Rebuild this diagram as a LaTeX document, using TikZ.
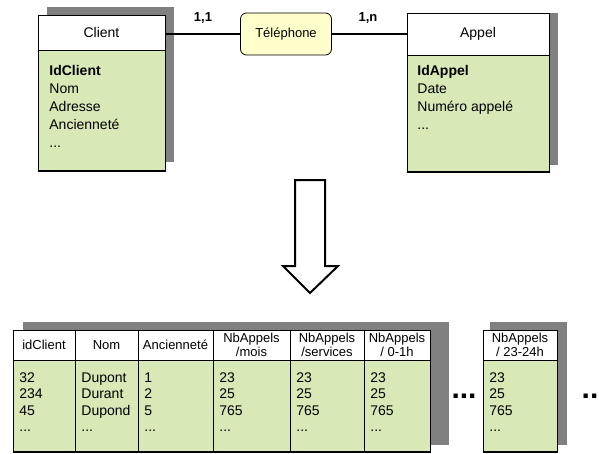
\documentclass[tikz,border=0pt]{standalone}
\usepackage{fontspec}
\setmainfont{Liberation Sans}
\definecolor{vert}{RGB}{216,232,182}
\definecolor{jaune}{RGB}{255,255,204}
\definecolor{ombre}{RGB}{128,128,128}
\begin{document}
\begin{tikzpicture}[x=1pt,y=-1pt,line join=miter,line width=.8pt]
\tikzset{entete/.style={draw,fill=white,inner sep=0pt,font=\fontsize{14}{16}\selectfont},
  attr/.style={anchor=north west,align=left,inner sep=0pt,font=\fontsize{14}{18}\selectfont},
  card/.style={font=\bfseries\fontsize{13}{15}\selectfont},
  cell/.style={align=center,inner sep=0pt,font=\fontsize{13}{14}\selectfont},
  val/.style={anchor=north west,align=left,inner sep=0pt,font=\fontsize{14}{16.5}\selectfont},
  etc/.style={font=\bfseries\fontsize{30}{30}\selectfont}}
\useasboundingbox (0,0) rectangle (599,453);
% entite Client
\fill[ombre] (47,7) rectangle (174,162);
\draw[fill=vert] (38,50) rectangle (165,171);
\draw[line width=1.6pt] (38,171) -- (165,171);
\node[entete,minimum width=127pt,minimum height=35pt] (client) at (101.5,32.5) {Client};
\node[attr] (attrclient) at (49,65) {\textbf{IdClient}\\Nom\\Adresse\\Ancienneté\\...};
% entite Appel
\fill[ombre] (416,13) rectangle (558,165);
\draw[fill=vert] (407,55) rectangle (549,172);
\draw[line width=1.6pt] (407,172) -- (549,172);
\node[entete,minimum width=142pt,minimum height=42pt] (appel) at (478,34) {Appel};
\node[attr] (attrappel) at (417,65) {\textbf{IdAppel}\\Date\\Numéro appelé\\...};
% association
\node[draw,fill=jaune,rounded corners=6pt,minimum width=91pt,minimum height=42pt,inner sep=0pt,
  font=\fontsize{13}{15}\selectfont] (tel) at (286,34) {Téléphone};
\draw[line width=1.8pt] (client.east |- tel.west) -- (tel.west);
\draw[line width=1.8pt] (tel.east) -- (appel.west);
\node[card] (card1) at (203,18) {1,1};
\node[card] (card2) at (368,18) {1,n};
% fleche
\draw[line width=2pt,fill=white] (295,180) -- (325,180) -- (325,266) -- (338,266) -- (310,293)
  -- (283,266) -- (295,266) -- cycle;
% table
\fill[ombre] (23,322) rectangle (449,445);
\draw[fill=white] (13,330) rectangle (430,360);
\draw[fill=vert] (13,360) rectangle (430,452);
\draw[line width=1.6pt] (13,452) -- (430,452);
\foreach \xa/\xb/\titre/\va/\vb/\vc [count=\i] in {13/75/idClient/32/234/45,
  75/138/Nom/Dupont/Durant/Dupond, 138/213/Ancienneté/1/2/5,
  213/290/{NbAppels\\/mois}/23/25/765, 290/364/{NbAppels\\/services}/23/25/765,
  364/430/{NbAppels\\/ 0-1h}/23/25/765}{
  \draw (\xa,330) -- (\xa,452);
  \node[cell] (col\i) at ({(\xa+\xb)/2},345) {\titre};
  \node[val] (val\i) at (\xa+6,372) {\va\\\vb\\\vc\\...};
}
\node[etc] (etc1) at (464,396) {...};
\fill[ombre] (490,322) rectangle (567,445);
\draw[fill=white] (483,330) rectangle (557,360);
\draw[fill=vert] (483,360) rectangle (557,452);
\draw[line width=1.6pt] (483,452) -- (557,452);
\node[cell] (col24) at (520,345) {NbAppels\\/ 23-24h};
\node[val] (val24) at (489,372) {23\\25\\765\\...};
\node[etc] (etc2) at (590,396) {..};
\end{tikzpicture}
\end{document}
